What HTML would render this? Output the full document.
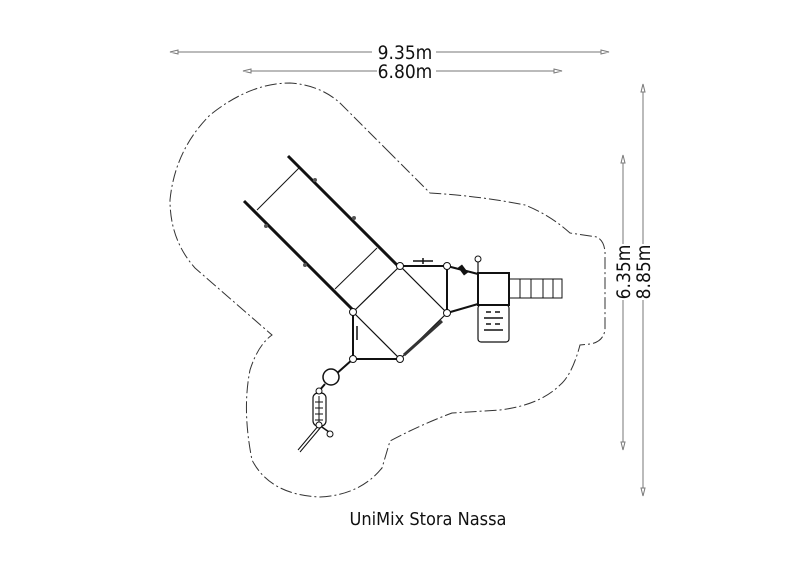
<!DOCTYPE html>
<html><head><meta charset="utf-8"><style>
html,body{margin:0;padding:0;background:#fff;width:800px;height:565px;overflow:hidden}
svg{display:block}
text{font-family:"DejaVu Sans Condensed","DejaVu Sans","Liberation Sans",sans-serif;fill:#111}
</style></head><body>
<svg width="800" height="565" viewBox="0 0 800 565" xmlns="http://www.w3.org/2000/svg">
<g stroke="#777" stroke-width="1" fill="#fff">
<line x1="172" y1="52" x2="372" y2="52"/><line x1="436" y1="52" x2="607" y2="52"/>
<path d="M170 52 l8 -2 v4z M609 52 l-8 -2 v4z"/>
<line x1="245" y1="71" x2="377" y2="71"/><line x1="436" y1="71" x2="560" y2="71"/>
<path d="M243 71 l8 -2 v4z M562 71 l-8 -2 v4z"/>
<line x1="643" y1="86" x2="643" y2="244"/><line x1="643" y1="300" x2="643" y2="494"/>
<path d="M643 84 l-2 8 h4z M643 496 l-2 -8 h4z"/>
<line x1="623" y1="157" x2="623" y2="244"/><line x1="623" y1="300" x2="623" y2="448"/>
<path d="M623 155 l-2 8 h4z M623 450 l-2 -8 h4z"/>
</g>
<text x="405" y="59" font-size="19" text-anchor="middle">9.35m</text>
<text x="405" y="78" font-size="19" text-anchor="middle">6.80m</text>
<text transform="translate(630,272) rotate(-90)" font-size="19" text-anchor="middle">6.35m</text>
<text transform="translate(650,272) rotate(-90)" font-size="19" text-anchor="middle">8.85m</text>
<text x="428" y="525" font-size="18" text-anchor="middle">UniMix Stora Nassa</text>
<path d="M387 150 L430 193 Q480 196 525 205 Q550 215 570 233 L597 237 Q606 242 605 258 L605 330 Q603 342 590 344 L580 345 Q572 375 560 385 Q540 405 500 410 L452 413 Q420 425 390 441 L382 468 Q360 495 320 497 Q270 495 252 460 Q242 410 250 370 Q258 345 272 335 L195 268 Q170 240 170 200 Q175 150 210 115 Q250 83 290 83 Q320 85 340 103 Z" fill="none" stroke="#333" stroke-width="1" stroke-dasharray="12 3 2 3"/>
<g stroke="#111" fill="none">
<line x1="288" y1="156" x2="398" y2="266" stroke-width="3"/>
<line x1="244" y1="201" x2="353" y2="310" stroke-width="3"/>
<line x1="257" y1="210" x2="299" y2="168" stroke-width="1"/>
<line x1="335" y1="289" x2="377" y2="248" stroke-width="1"/>
<path d="M400 266 L353 312 L400 359 L447 313 Z M400 266 L447 313 M353 312 L400 359" stroke-width="1.2"/>
<path d="M353 312 L353 359 L400 359 M400 266 L447 266 L447 313" stroke-width="2"/>
<path d="M447 266 L478 274 M447 313 L478 304" stroke-width="2"/>
<rect x="478" y="273" width="31" height="32" stroke-width="2"/>
<rect x="478" y="305" width="31" height="37" rx="3" stroke-width="1.2"/>
<path d="M486 312h5m4 0h5 M484 318h19 M486 324h5m4 0h5 M484 330h19" stroke-width="1.5"/>
<rect x="509" y="279" width="53" height="19" stroke-width="1"/>
<path d="M520 279v19 M531 279v19 M543 279v19 M553 279v19" stroke-width="1"/>
<line x1="478" y1="273" x2="478" y2="260" stroke-width="1.2"/>
<circle cx="478" cy="259" r="3" fill="#fff" stroke-width="1"/>
<path d="M413 261h20 M423 258v6" stroke-width="1.5"/>
<path d="M460 266 l6 8" stroke-width="5"/>
<path d="M404 355 L442 321" stroke-width="3" stroke="#333"/>
<path d="M357 326v14" stroke-width="1.5"/>
<path d="M353 359 L335 375 M325 384 L319 391 L319 425" stroke-width="2"/>
<circle cx="331" cy="377" r="8" fill="#fff" stroke-width="1.5"/>
<rect x="313" y="393" width="13" height="33" rx="5" fill="#fff" stroke-width="1.2"/>
<path d="M319 396v28 M315 402h8 M315 408h8 M315 414h8 M315 420h8" stroke-width="1"/>
<path d="M319 425 L298 450 M321 427 L300 452" stroke-width="1"/>
<path d="M319 425 L329 432" stroke-width="1.5"/>
<circle cx="330" cy="434" r="3" fill="#fff" stroke-width="1"/>
</g>
<g fill="#fff" stroke="#111" stroke-width="1">
<circle cx="400" cy="266" r="3.5"/><circle cx="353" cy="312" r="3.5"/>
<circle cx="400" cy="359" r="3.5"/><circle cx="447" cy="313" r="3.5"/>
<circle cx="447" cy="266" r="3.5"/><circle cx="353" cy="359" r="3.5"/>
<circle cx="319" cy="391" r="3"/><circle cx="319" cy="425" r="3"/>
</g>
<g fill="#555"><circle cx="315" cy="180" r="2"/><circle cx="354" cy="218" r="2"/><circle cx="266" cy="226" r="2"/><circle cx="305" cy="265" r="2"/></g>
</svg>
</body></html>
